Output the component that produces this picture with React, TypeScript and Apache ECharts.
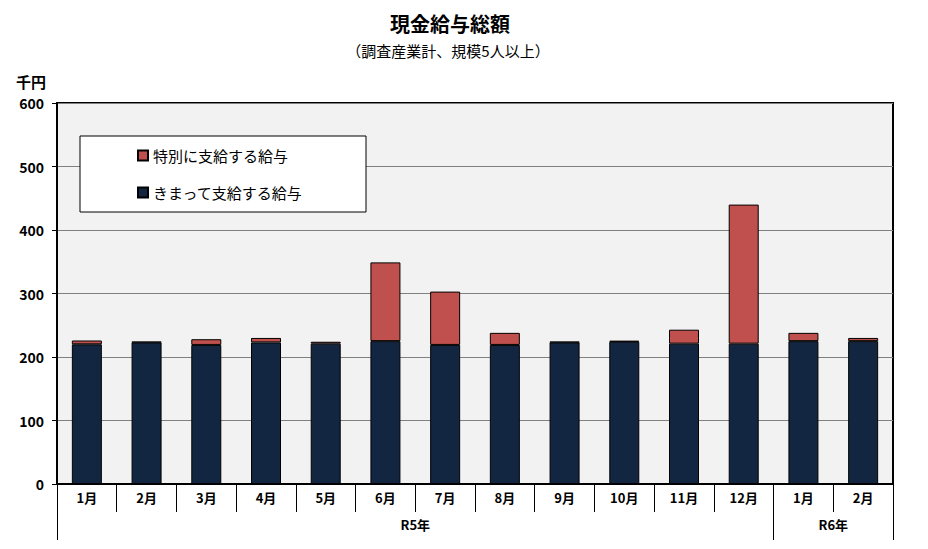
import React, { useEffect, useRef } from "react";
import * as echarts from "echarts";

const categories = ["1月", "2月", "3月", "4月", "5月", "6月", "7月", "8月", "9月", "10月", "11月", "12月", "1月", "2月"];
const fixedPay = [220, 223, 219, 223, 221, 225, 219, 219, 223, 224, 221, 221, 225, 225];
const specialPay = [6, 1, 9, 7, 3, 124, 84, 19, 1, 1.5, 22, 219, 13, 5];
const yearLabels = ["R5年", "R6年"];
const yearSpans = [12, 2];
const yTicks = { min: 0, max: 600, interval: 100 };
const titleText = "現金給与総額";
const subtitleText = "（調査産業計、規模5人以上）";
const unitText = "千円";

const FONT = "'Noto Sans CJK JP', 'Noto Sans', sans-serif";

export default function App() {
  const ref = useRef<HTMLDivElement>(null);
  useEffect(() => {
    if (!ref.current) return;
    const chart = echarts.init(ref.current, null, { renderer: "svg" });

    const boundaries: number[] = [0];
    const centers: number[] = [];
    let acc = 0;
    yearSpans.forEach((s) => {
      centers.push(acc + s / 2);
      acc += s;
      boundaries.push(acc);
    });

    chart.setOption({
      animation: false,
      backgroundColor: "#ffffff",
      textStyle: { fontFamily: FONT },
      graphic: [
        {
          type: "text",
          x: 450,
          y: 13,
          style: {
            text: titleText,
            textAlign: "center",
            textVerticalAlign: "top",
            fontSize: 20,
            fontWeight: "bold",
            fill: "#000",
            fontFamily: FONT,
          },
        },
        {
          type: "text",
          x: 448,
          y: 43,
          style: {
            text: subtitleText,
            textAlign: "center",
            textVerticalAlign: "top",
            fontSize: 15,
            fill: "#000",
            fontFamily: FONT,
          },
        },
        {
          type: "text",
          left: 16,
          top: 74,
          style: { text: unitText, fontSize: 15, fontWeight: "bold", fill: "#000", fontFamily: FONT },
        },
      ],
      legend: {
        data: ["特別に支給する給与", "きまって支給する給与"],
        orient: "vertical",
        left: 80,
        top: 136,
        backgroundColor: "#ffffff",
        borderColor: "#000",
        borderWidth: 1,
        padding: [12, 63, 12, 57],
        itemGap: 22,
        icon: "rect",
        itemWidth: 10,
        itemHeight: 10,
        textStyle: { fontSize: 15, color: "#000", fontFamily: FONT },
      },
      grid: {
        left: 57,
        right: 35,
        top: 103,
        bottom: 65,
        show: true,
        backgroundColor: "#f2f2f2",
        borderColor: "#000",
        borderWidth: 2,
      },
      xAxis: [
        {
          type: "category",
          data: categories,
          boundaryGap: true,
          axisLine: { show: true, lineStyle: { color: "#000", width: 2 } },
          axisTick: { show: true, interval: 0, length: 28, lineStyle: { color: "#000", width: 1 } },
          axisLabel: { interval: 0, margin: 7, fontSize: 13, fontWeight: "bold", color: "#000", fontFamily: FONT },
          splitLine: { show: false },
        },
        {
          type: "value",
          min: 0,
          max: categories.length,
          position: "bottom",
          axisLine: { show: false },
          splitLine: { show: false },
          axisTick: {
            show: true,
            customValues: boundaries,
            length: 56,
            lineStyle: { color: "#000", width: 1 },
          },
          axisLabel: {
            customValues: centers,
            margin: 34,
            fontSize: 13,
            fontWeight: "bold",
            color: "#000",
            fontFamily: FONT,
            formatter: (v: number) => {
              const i = centers.indexOf(v);
              return i >= 0 ? yearLabels[i] : "";
            },
          },
        },
      ],
      yAxis: {
        type: "value",
        min: yTicks.min,
        max: yTicks.max,
        interval: yTicks.interval,
        axisLine: { show: true, lineStyle: { color: "#000", width: 2 } },
        axisTick: { show: true, length: 5, lineStyle: { color: "#000" } },
        axisLabel: { margin: 13, fontSize: 14, fontWeight: "bold", color: "#000", fontFamily: FONT },
        splitLine: { show: true, lineStyle: { color: "#808080", width: 1 } },
      },
      series: [
        {
          name: "きまって支給する給与",
          type: "bar",
          stack: "total",
          xAxisIndex: 0,
          barWidth: 30,
          data: fixedPay,
          itemStyle: { color: "#132641", borderColor: "#000", borderWidth: 1 },
        },
        {
          name: "特別に支給する給与",
          type: "bar",
          stack: "total",
          xAxisIndex: 0,
          barWidth: 30,
          data: specialPay,
          itemStyle: { color: "#c0504d", borderColor: "#000", borderWidth: 1 },
        },
      ],
    });
    return () => chart.dispose();
  }, []);
  return <div ref={ref} style={{ position: "fixed", left: 0, top: 0, width: 928, height: 549 }} />;
}
